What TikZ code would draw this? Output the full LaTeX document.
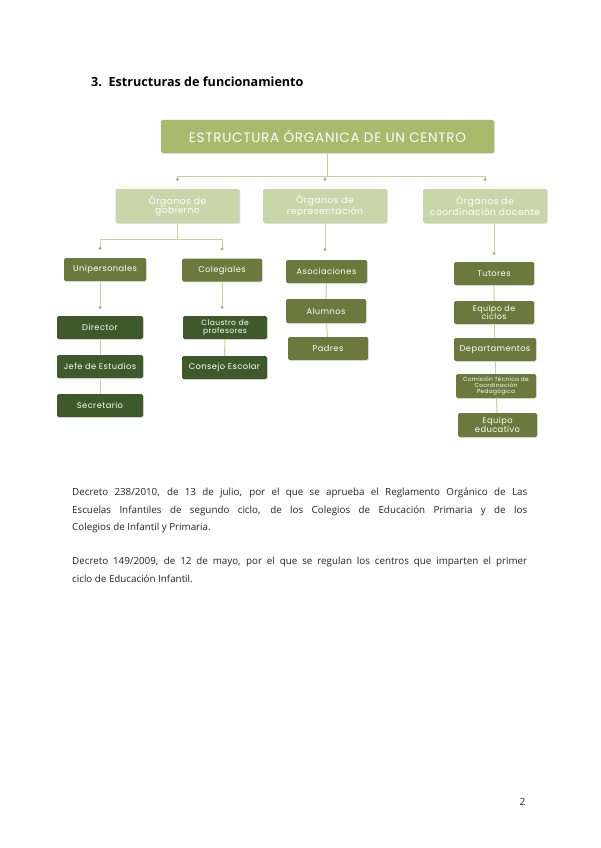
\documentclass[tikz,border=0pt]{standalone}
\usepackage{fontspec}
\setmainfont{Open Sans}
\newfontfamily\boxfont[LetterSpace=5]{Poppins}
\usetikzlibrary{arrows.meta,shadows}
\definecolor{ink}{RGB}{35,35,35}
\definecolor{leaf}{RGB}{166,187,107}
\definecolor{sage}{RGB}{200,214,170}
\definecolor{olive}{RGB}{107,122,60}
\definecolor{forest}{RGB}{63,90,42}
\definecolor{twig}{RGB}{200,207,160}
\definecolor{knot}{RGB}{170,180,125}
\tikzset{
  box/.style={rounded corners=1.5pt, inner sep=1pt, align=center, text=white,
    font=\boxfont\fontsize{8.3}{8.6}\selectfont,
    drop shadow={shadow xshift=0.8pt, shadow yshift=-0.8pt, opacity=0.22}},
  head/.style={box, fill=leaf, minimum width=333pt, minimum height=33pt, font=\boxfont\fontsize{13.6}{15}\selectfont},
  group/.style={box, fill=sage, minimum width=124pt, minimum height=34pt, font=\boxfont\fontsize{9.2}{9.6}\selectfont},
  kind/.style={box, fill=olive, minimum width=80pt, minimum height=23pt},
  post/.style={box, fill=forest, minimum width=86pt, minimum height=23pt},
  link/.style={draw=twig, line width=1pt},
  drop/.style={link, -{Circle[length=2.8pt, color=knot]}},
  body/.style={anchor=north west, text width=455pt, align=justify, text=ink, inner sep=0pt,
    font=\fontsize{9.8}{17.5}\selectfont},
}
\begin{document}
\begin{tikzpicture}[x=1pt, y=-1pt]
  \useasboundingbox[fill=white] (0,0) rectangle (600,848);
  \node[anchor=base west, inner sep=0pt, text=black, font=\bfseries\fontsize{12.6}{15}\selectfont] (title) at (91,87) {3.\ \ Estructuras de funcionamiento};

  \node[head] (top) at (327.5,136.5) {ESTRUCTURA ÓRGANICA DE UN CENTRO};
  \node[group] (gob) at (177.5,206) {Órganos de\\gobierno};
  \node[group] (rep) at (325,206) {Órganos de\\representación};
  \node[group] (coord) at (485,206) {Órganos de\\coordinación docente};

  \node[kind, minimum width=82pt] (uni) at (105,269.5) {Unipersonales};
  \node[kind] (cole) at (222,270) {Colegiales};
  \node[kind, minimum width=81pt] (asoc) at (326.5,271.5) {Asociaciones};
  \node[kind] (tut) at (494,273.5) {Tutores};

  \node[post] (dir) at (100,327.5) {Director};
  \node[post] (jefe) at (100,366.5) {Jefe de Estudios};
  \node[post] (sec) at (100,405.5) {Secretario};
  \node[post, minimum width=84pt, font=\boxfont\fontsize{7.6}{7.8}\selectfont] (claus) at (225,327.5) {Claustro de\\profesores};
  \node[post, minimum width=85pt] (cons) at (224.5,367.5) {Consejo Escolar};

  \node[kind, minimum height=24pt] (alum) at (326,311) {Alumnos};
  \node[kind] (padr) at (328,348.5) {Padres};

  \node[kind, font=\boxfont\fontsize{8}{8.2}\selectfont] (equip) at (494,312.5) {Equipo de\\ciclos};
  \node[kind, minimum width=82pt] (dept) at (495,349.5) {Departamentos};
  \node[kind, minimum height=24pt, font=\boxfont\fontsize{5.8}{6.2}\selectfont] (comi) at (496,386) {Comisión Técnica de\\Coordinación\\Pedagógica};
  \node[kind, minimum width=79pt, minimum height=24pt, font=\boxfont\fontsize{8.3}{8.4}\selectfont] (educ) at (497.5,425) {Equipo\\educativo};

  % ramas
  \coordinate (bus1) at (327.5,176);
  \draw[link] (top.south) -- (bus1);
  \draw[link] (bus1 -| gob) -- (bus1 -| coord);
  \foreach \n in {gob,rep,coord}
    \draw[drop] (bus1 -| \n) -- ([yshift=8pt]\n.north);

  \coordinate (bus2) at (177.5,239);
  \draw[link] (gob.south) -- (bus2);
  \draw[link] (bus2 -| dir) -- (bus2 -| cole);
  \draw[drop] (bus2 -| dir) -- ([yshift=8pt]uni.north -| dir);
  \draw[drop] (bus2 -| cole) -- ([yshift=8pt]cole.north);

  \draw[drop] (rep.south) -- ([yshift=9pt]asoc.north -| rep);
  \draw[drop] (coord.south -| tut) -- ([yshift=7pt]tut.north);
  \draw[drop] (uni.south -| dir) -- ([yshift=7pt]dir.north);
  \draw[drop] (cole.south) -- ([yshift=7pt]claus.north -| cole);

  \draw[link] (dir) -- (jefe) -- (sec);
  \draw[link] (claus) -- (cons);
  \draw[link] (asoc) -- (alum) -- (padr);
  \draw[link] (tut) -- (equip) -- (dept) -- (comi) -- (educ);

  \node[body] (dec1) at (72,488) {Decreto 238/2010, de 13 de julio, por el que se aprueba el Reglamento Orgánico de Las\linebreak Escuelas Infantiles de segundo ciclo, de los Colegios de Educación Primaria y de los\linebreak Colegios de Infantil y Primaria.};
  \node[body] (dec2) at (72,557) {Decreto 149/2009, de 12 de mayo, por el que se regulan los centros que imparten el primer\linebreak ciclo de Educación Infantil.};
  \node[anchor=base, inner sep=0pt, text=ink, font=\fontsize{10}{12}\selectfont] (page) at (522.5,805) {2};
\end{tikzpicture}
\end{document}
